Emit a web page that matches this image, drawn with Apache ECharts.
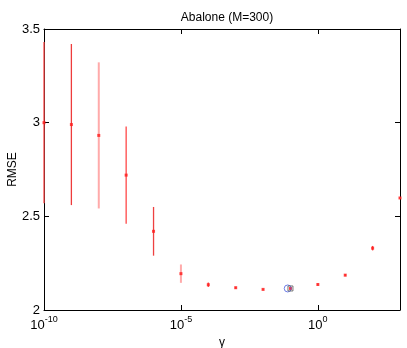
<!DOCTYPE html>
<html>
<head>
<meta charset="utf-8">
<script src="https://cdn.jsdelivr.net/npm/echarts@6/dist/echarts.min.js"></script>
<style>
  html, body { margin: 0; padding: 0; background: #fff; }
  #chart { width: 407px; height: 348px; }
</style>
</head>
<body>
<div id="chart"></div>
<script>
// log10(gamma) of each grid point
const gammaExp = [-10, -9, -8, -7, -6, -5, -4, -3, -2, -1, 0, 1, 2, 3]
const rmseMean = [3.0, 2.99, 2.932, 2.72, 2.42, 2.194, 2.135, 2.119, 2.11, 2.115, 2.136, 2.186, 2.33, 2.598]
const rmseErr = [0.43, 0.43, 0.39, 0.26, 0.13, 0.049, 0.012, 0.005, 0.004, 0.005, 0.005, 0.006, 0.012, 0.004]
const barColors = ['#ff4a4a', '#ee3c3c', '#ffaaaa', '#ff4848', '#ee4040', '#ffaaaa', '#ff5050', '#ff6060', '#ff6060', '#ff6060', '#ff6060', '#ff6060', '#ff4040', '#ff4040']
const chosenExp = [-1.1]
const chosenRmse = [2.115]
const bestExp = [-1]
const bestRmse = [2.115]
const xTicks = [-10, -5, 0]

const font = 'Liberation Sans, Arial, sans-serif'
const chart = echarts.init(document.getElementById('chart'))

const errData = gammaExp.map((g, i) => [g, rmseMean[i] - rmseErr[i], rmseMean[i] + rmseErr[i], i])
const pts = gammaExp.map((g, i) => [g, rmseMean[i]])

chart.setOption({
  animation: false,
  title: {
    text: 'Abalone (M=300)', left: 222, top: 7, textAlign: 'center',
    textStyle: { fontFamily: font, fontSize: 12, fontWeight: 'normal', color: '#000' }
  },
  grid: { left: 44, right: 7, top: 29, bottom: 38, outerBoundsMode: 'none' },
  xAxis: [
    {
      type: 'value', min: -10, max: 3, position: 'bottom',
      name: 'γ', nameLocation: 'middle', nameGap: 25,
      nameTextStyle: { fontFamily: font, fontSize: 12, color: '#000' },
      axisLine: { onZero: false, lineStyle: { color: '#000', width: 1 } },
      axisTick: { inside: true, length: 5, customValues: xTicks, lineStyle: { color: '#000' } },
      axisLabel: {
        customValues: xTicks, margin: 5, color: '#000',
        formatter: v => '{b|10}{s|' + v + '}',
        rich: {
          b: { fontFamily: font, fontSize: 13, color: '#000', lineHeight: 17, verticalAlign: 'bottom' },
          s: { fontFamily: font, fontSize: 9, color: '#000', lineHeight: 17, verticalAlign: 'top' }
        }
      },
      splitLine: { show: false }
    },
    {
      type: 'value', min: -10, max: 3, position: 'top',
      axisLine: { onZero: false, lineStyle: { color: '#000', width: 1 } },
      axisTick: { inside: true, length: 5, customValues: xTicks, lineStyle: { color: '#000' } },
      axisLabel: { show: false },
      splitLine: { show: false }
    }
  ],
  yAxis: [
    {
      type: 'value', min: 2, max: 3.5, interval: 0.5, position: 'left',
      name: 'RMSE', nameLocation: 'middle', nameGap: 25, nameMoveOverlap: false,
      nameTextStyle: { fontFamily: font, fontSize: 12, color: '#000' },
      axisLine: { show: true, onZero: false, lineStyle: { color: '#000', width: 1 } },
      axisTick: { inside: true, length: 5, lineStyle: { color: '#000' } },
      axisLabel: { fontFamily: font, fontSize: 13, color: '#000', margin: 4 },
      splitLine: { show: false }
    },
    {
      type: 'value', min: 2, max: 3.5, interval: 0.5, position: 'right',
      axisLine: { show: true, onZero: false, lineStyle: { color: '#000', width: 1 } },
      axisTick: { inside: true, length: 5, lineStyle: { color: '#000' } },
      axisLabel: { show: false },
      splitLine: { show: false }
    }
  ],
  series: [
    {
      type: 'custom',
      clip: false,
      z: 5,
      data: errData,
      renderItem: (params, api) => {
        const lo = api.coord([api.value(0), api.value(1)])
        const hi = api.coord([api.value(0), api.value(2)])
        const i = api.value(3)
        const pale = barColors[i] === '#ffaaaa'
        return {
          type: 'line',
          shape: { x1: lo[0], y1: lo[1], x2: hi[0], y2: hi[1] },
          style: { stroke: barColors[i], lineWidth: pale ? 2 : 1.3 }
        }
      }
    },
    {
      type: 'scatter', data: pts, symbol: 'rect', symbolSize: 3, clip: false, z: 6,
      itemStyle: { color: '#ff1a1a' }
    },
    {
      type: 'scatter', data: chosenExp.map((g, i) => [g, chosenRmse[i]]),
      symbol: 'circle', symbolSize: 7, z: 7,
      itemStyle: { color: 'rgba(0,0,0,0)', borderColor: '#4a5ee0', borderWidth: 1 }
    },
    {
      type: 'scatter', data: bestExp.map((g, i) => [g, bestRmse[i]]),
      symbol: 'rect', symbolSize: 5, z: 7,
      itemStyle: { color: 'rgba(0,0,0,0)', borderColor: '#555', borderWidth: 1 }
    }
  ]
})
</script>
</body>
</html>
